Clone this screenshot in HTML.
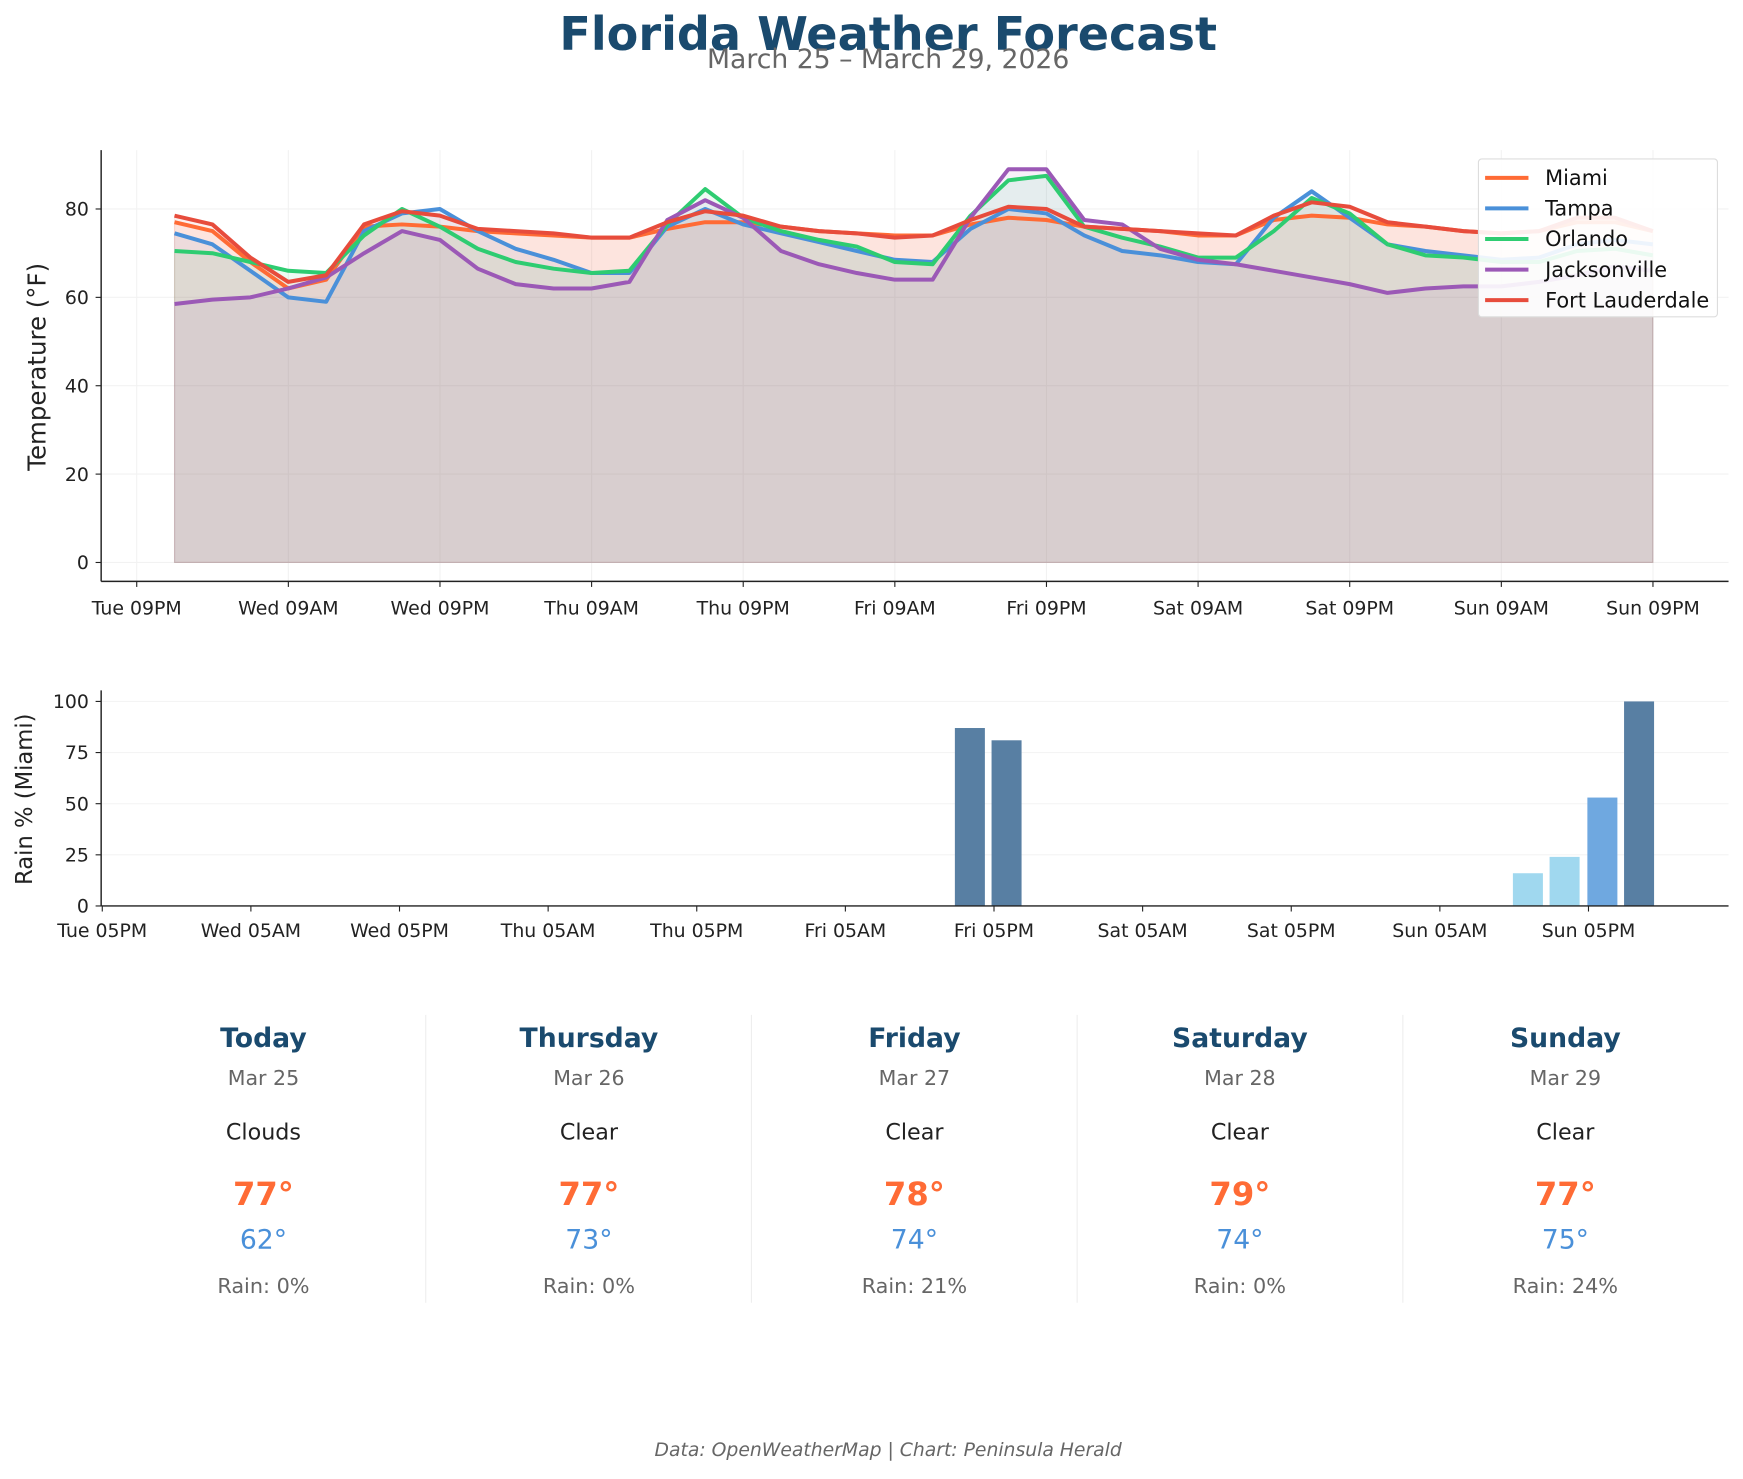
<!DOCTYPE html>
<html><head><meta charset="utf-8"><style>
html,body{margin:0;padding:0;background:#fff;}
svg text{font-family:"DejaVu Sans","Liberation Sans",sans-serif;}
</style></head><body>
<svg id="s" xmlns="http://www.w3.org/2000/svg" width="1743" height="1474" viewBox="0 0 1568 1326">
<rect width="1568" height="1326" fill="#fff"/>
<text x="799" y="45" text-anchor="middle" font-size="41.5" font-weight="bold" fill="#1a4a6e">Florida Weather Forecast</text>
<text x="799" y="61" text-anchor="middle" font-size="24" fill="#666">March 25 – March 29, 2026</text>
<g id="topg"></g>
<g id="rain"></g>
<g id="cards"></g>
<text x="799" y="1310" text-anchor="middle" font-size="16.9" font-style="italic" fill="#666">Data: OpenWeatherMap | Chart: Peninsula Herald</text>
</svg>
<script>
(function(){
var NS="http://www.w3.org/2000/svg";
function el(p,t,a,txt){var e=document.createElementNS(NS,t);for(var k in a)e.setAttribute(k,a[k]);if(txt!==undefined)e.textContent=txt;p.appendChild(e);return e;}
var topG=document.getElementById('topg');
var TF=17;
function Y(v){return 506-v*3.975;}
[0,20,40,60,80].forEach(function(v){el(topG,'line',{x1:91,x2:1555,y1:Y(v),y2:Y(v),stroke:'#f2f2f2','stroke-width':1});
 el(topG,'line',{x1:86,x2:91,y1:Y(v),y2:Y(v),stroke:'#222','stroke-width':1});
 el(topG,'text',{x:80,y:Y(v)+6,'text-anchor':'end','font-size':TF,fill:'#222'},v);});
var xl=['Tue 09PM','Wed 09AM','Wed 09PM','Thu 09AM','Thu 09PM','Fri 09AM','Fri 09PM','Sat 09AM','Sat 09PM','Sun 09AM','Sun 09PM'];
xl.forEach(function(l,i){var x=123+i*136.4;el(topG,'line',{x1:x,x2:x,y1:135,y2:523,stroke:'#f2f2f2','stroke-width':1});
 el(topG,'line',{x1:x,x2:x,y1:523,y2:528,stroke:'#222','stroke-width':1});
 el(topG,'text',{x:x,y:553,'text-anchor':'middle','font-size':TF,fill:'#222'},l);});
var S=[
['Miami','#ff6b35',[77,75,68,62,64,76,76.5,76,75,74.5,74,73.5,73.5,75.5,77,77,76,75,74.5,74,74,76.5,78,77.5,76,75.5,75,74,74,77.5,78.5,78,76.5,76,75,74.5,75,77,77,75]],
['Tampa','#4a90d9',[74.5,72,66,60,59,75,79,80,75,71,68.5,65.5,65.5,76,80,76.5,74.5,72.5,70.5,68.5,68,75.5,80,79,74,70.5,69.5,68,67.5,78,84,78,72,70.5,69.5,68.5,69,72,73,72]],
['Orlando','#2ecc71',[70.5,70,68,66,65.5,74,80,76,71,68,66.5,65.5,66,76.5,84.5,78,75,73,71.5,68,67.5,78.5,86.5,87.5,76,73.5,71.5,69,69,75,82.5,79,72,69.5,69,68,68,70.5,71,69.5]],
['Jacksonville','#9b59b6',[58.5,59.5,60,62,64.5,70,75,73,66.5,63,62,62,63.5,77.5,82,78,70.5,67.5,65.5,64,64,78,89,89,77.5,76.5,71,68.5,67.5,66,64.5,63,61,62,62.5,62.5,63.5,65,67,66]],
['Fort Lauderdale','#e74c3c',[78.5,76.5,69,63.5,65,76.5,79.5,78.5,75.5,75,74.5,73.5,73.5,77,79.5,78.5,76,75,74.5,73.5,74,77.5,80.5,80,76,75.5,75,74.5,74,78.5,81.5,80.5,77,76,75,74.5,75,78,78,75]]];
S.forEach(function(s){var pts=s[2].map(function(v,i){return (157+i*34.1).toFixed(1)+','+Y(v).toFixed(1);});
 el(topG,'polygon',{points:'157,506 '+pts.join(' ')+' 1487,506',fill:s[1],'fill-opacity':0.085,stroke:s[1],'stroke-opacity':0.1});});
S.forEach(function(s){var pts=s[2].map(function(v,i){return (157+i*34.1).toFixed(1)+','+Y(v).toFixed(1);});
 el(topG,'polyline',{points:pts.join(' '),fill:'none',stroke:s[1],'stroke-width':3.6,'stroke-linejoin':'round'});});
el(topG,'line',{x1:91,x2:91,y1:135,y2:523,stroke:'#222','stroke-width':1.3});
el(topG,'line',{x1:91,x2:1555,y1:523,y2:523,stroke:'#222','stroke-width':1.3});
el(topG,'text',{transform:'translate(41,330) rotate(-90)','text-anchor':'middle','font-size':22,fill:'#222'},'Temperature (°F)');
el(topG,'rect',{x:1330,y:143,width:215,height:142,rx:3,fill:'#fff','fill-opacity':0.9,stroke:'#ddd'});
S.forEach(function(s,i){var y=160+i*27.5;el(topG,'line',{x1:1336,x2:1375,y1:y,y2:y,stroke:s[1],'stroke-width':3.6});
 el(topG,'text',{x:1390,y:y+6.5,'font-size':18.8,fill:'#111'},s[0]);});
var r=document.getElementById('rain');
function R(v){return 815-v*1.84;}
[0,25,50,75,100].forEach(function(v){el(r,'line',{x1:91,x2:1555,y1:R(v),y2:R(v),stroke:'#f4f4f4'});
 el(r,'line',{x1:86,x2:91,y1:R(v),y2:R(v),stroke:'#222'});
 el(r,'text',{x:80,y:R(v)+6,'text-anchor':'end','font-size':TF,fill:'#222'},v);});
var rl=['Tue 05PM','Wed 05AM','Wed 05PM','Thu 05AM','Thu 05PM','Fri 05AM','Fri 05PM','Sat 05AM','Sat 05PM','Sun 05AM','Sun 05PM'];
rl.forEach(function(l,i){var x=92+i*133.7;el(r,'line',{x1:x,x2:x,y1:815,y2:820,stroke:'#222'});
 el(r,'text',{x:x,y:843,'text-anchor':'middle','font-size':TF,fill:'#222'},l);});
[[859,87,'#587fa3'],[892,81,'#587fa3'],[1361,16,'#a0d8ef'],[1394,24,'#a0d8ef'],[1428,53,'#6fa8e0'],[1461,100,'#587fa3']].forEach(function(b){
 el(r,'rect',{x:b[0],y:R(b[1]),width:27,height:b[1]*1.84,fill:b[2]});});
el(r,'line',{x1:91,x2:91,y1:621,y2:815,stroke:'#222','stroke-width':1.3});
el(r,'line',{x1:91,x2:1555,y1:815,y2:815,stroke:'#222','stroke-width':1.3});
el(r,'text',{transform:'translate(29,719) rotate(-90)','text-anchor':'middle','font-size':20.4,fill:'#222'},'Rain % (Miami)');
var c=document.getElementById('cards');
var D=[['Today','Mar 25','Clouds','77°','62°','Rain: 0%'],['Thursday','Mar 26','Clear','77°','73°','Rain: 0%'],['Friday','Mar 27','Clear','78°','74°','Rain: 21%'],['Saturday','Mar 28','Clear','79°','74°','Rain: 0%'],['Sunday','Mar 29','Clear','77°','75°','Rain: 24%']];
[383,676,969,1262].forEach(function(x){el(c,'line',{x1:x,x2:x,y1:913,y2:1172,stroke:'#eee'});});
D.forEach(function(d,i){var x=237+i*292.8;
 el(c,'text',{x:x,y:942,'text-anchor':'middle','font-size':24,'font-weight':'bold',fill:'#1a4a6e'},d[0]);
 el(c,'text',{x:x,y:976,'text-anchor':'middle','font-size':18.5,fill:'#666'},d[1]);
 el(c,'text',{x:x,y:1025,'text-anchor':'middle','font-size':20,fill:'#222'},d[2]);
 el(c,'text',{x:x,y:1084,'text-anchor':'middle','font-size':29,'font-weight':'bold',fill:'#ff6b35'},d[3]);
 el(c,'text',{x:x,y:1123,'text-anchor':'middle','font-size':24,fill:'#4a90d9'},d[4]);
 el(c,'text',{x:x,y:1163,'text-anchor':'middle','font-size':18.7,fill:'#666'},d[5]);});
})();
</script>
</body></html>
